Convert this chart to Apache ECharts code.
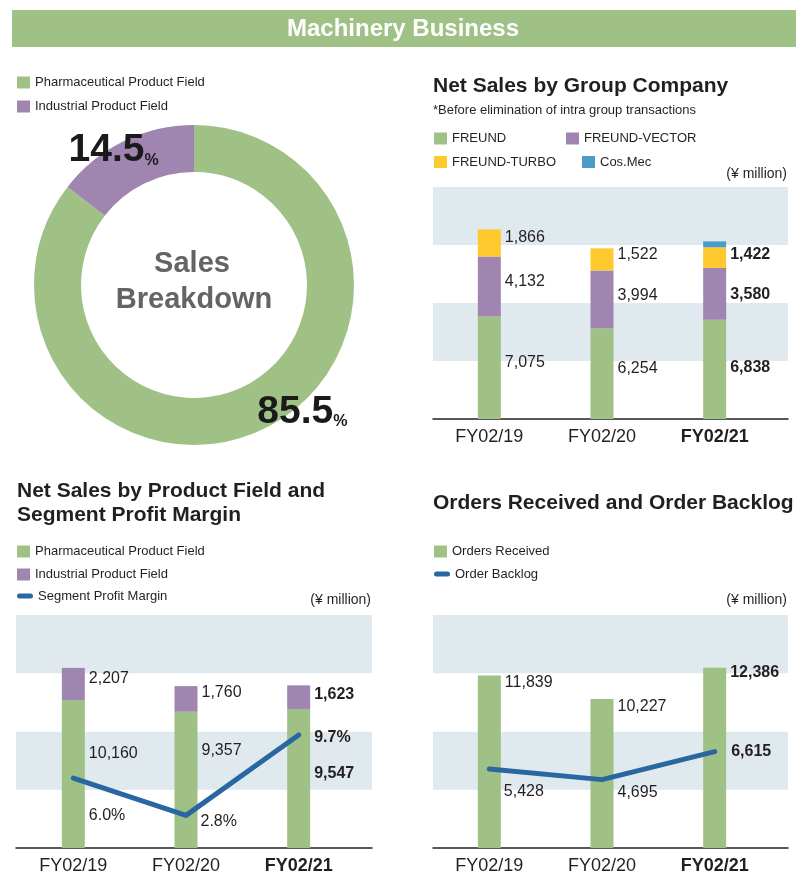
<!DOCTYPE html>
<html>
<head>
<meta charset="utf-8">
<title>Machinery Business</title>
<script src="https://cdn.jsdelivr.net/npm/echarts@6/dist/echarts.min.js"></script>
<style>
  html, body { margin: 0; padding: 0; background: #fff; }
  #chart { width: 796px; height: 872px; }
</style>
</head>
<body>
<div id="chart"></div>
<script>
const years = ['FY02/19', 'FY02/20', 'FY02/21']
const fieldNames = ['Pharmaceutical Product Field', 'Industrial Product Field']
const fieldShare = [85.5, 14.5]
const freund = [7075, 6254, 6838]
const freundVector = [4132, 3994, 3580]
const freundTurbo = [1866, 1522, 1422]
const cosMec = [null, null, 410]  // only FY02/21, no figure printed ->
const pharma = [10160, 9357, 9547]
const industrial = [2207, 1760, 1623]
const profitMargin = [6.0, 2.8, 9.7]
const ordersReceived = [11839, 10227, 12386]
const orderBacklog = [5428, 4695, 6615]
const salesTicks = [0, 4000, 8000, 12000, 16000]
const marginTicks = [0, 20]

const FONT = "'Liberation Sans', Arial, Helvetica, sans-serif"
const INK = '#231f20'
const GREEN = '#a0c185'
const PURPLE = '#a085b0'
const YELLOW = '#fdc92e'
const TEAL = '#4b9dc8'
const BLUE = '#2867a0'
const BAND = '#dfe9ee'

const num = v => v.toLocaleString('en-US')
const pct = v => v.toFixed(1) + '%'
// the latest year is printed bold
const boldLast = fmt => p => p.dataIndex === 2 ? '{b|' + fmt(p.value) + '}' : fmt(p.value)
const boldRich = size => ({ b: { fontFamily: FONT, fontSize: size, fontWeight: 'bold', color: INK } })

function valueLabel(fmt, extra) {
  return Object.assign({
    show: true, position: 'right', distance: 4,
    fontFamily: FONT, fontSize: 16, color: INK,
    formatter: boldLast(fmt), rich: boldRich(16)
  }, extra || {})
}
// nudge each label like in the printed chart
const nudged = (values, offsets) => values.map((v, i) => ({ value: v, label: { offset: offsets[i] } }))

const yMin = salesTicks[0]
const yMax = salesTicks[salesTicks.length - 1]
const yStep = salesTicks[1] - salesTicks[0]

function bandAxes(gridIndex) {
  return {
    x: {
      gridIndex, type: 'category', data: [''],
      axisLine: { lineStyle: { color: INK, width: 1.5 } },
      axisTick: { show: false }, axisLabel: { show: false }, splitLine: { show: false }
    },
    y: {
      gridIndex, type: 'value', min: yMin, max: yMax, interval: yStep,
      axisLine: { show: false }, axisTick: { show: false }, axisLabel: { show: false },
      splitLine: { show: false },
      splitArea: { show: true, areaStyle: { color: ['#ffffff', BAND] } }
    }
  }
}
function yearAxis(gridIndex) {
  return {
    gridIndex, type: 'category', data: years,
    axisLine: { show: false }, axisTick: { show: false },
    axisLabel: {
      interval: 0, margin: 9, fontFamily: FONT, fontSize: 18, color: INK,
      formatter: (v, i) => i === 2 ? '{b|' + v + '}' : v,
      rich: boldRich(18)
    }
  }
}
const hiddenY = (gridIndex, min, max) => ({ gridIndex, type: 'value', min, max, show: false })

const b0 = bandAxes(0), b2 = bandAxes(2), b4 = bandAxes(4)

const legendBase = {
  selectedMode: false, padding: 0, icon: 'rect', itemWidth: 13, itemHeight: 12,
  textStyle: { fontFamily: FONT, fontSize: 13, color: INK }
}
const capsule = 'path://M2.5,0H13.5A2.5,2.5,0,0,1,13.5,5H2.5A2.5,2.5,0,0,1,2.5,0Z'
const lineLegend = Object.assign({}, legendBase, { icon: capsule, itemWidth: 16, itemHeight: 5 })

function txt(text, x, y, size, opts) {
  opts = opts || {}
  return {
    type: 'text', x, y, silent: true,
    style: {
      text, fill: opts.color || INK,
      fontFamily: FONT, fontSize: size, fontWeight: opts.bold ? 'bold' : 'normal',
      textAlign: opts.align || 'left', align: opts.align || 'left',
      textVerticalAlign: 'middle', verticalAlign: 'middle'
    }
  }
}

const chart = echarts.init(document.getElementById('chart'))
const option = {
  animation: false,
  backgroundColor: '#ffffff',
  graphic: [
    { type: 'rect', shape: { x: 12, y: 10, width: 784, height: 37 }, style: { fill: GREEN }, silent: true },
    txt('Machinery Business', 403, 29, 24, { bold: true, color: '#ffffff', align: 'center' }),
    txt('Sales', 192, 264, 29, { bold: true, color: '#646464', align: 'center' }),
    txt('Breakdown', 194, 300, 29, { bold: true, color: '#646464', align: 'center' }),
    txt('Net Sales by Group Company', 433, 86, 21, { bold: true }),
    txt('*Before elimination of intra group transactions', 433, 110, 13),
    txt('(\u00a5 million)', 787, 174, 14, { align: 'right' }),
    txt('Net Sales by Product Field and', 17, 491, 21, { bold: true }),
    txt('Segment Profit Margin', 17, 515, 21, { bold: true }),
    txt('(\u00a5 million)', 371, 600, 14, { align: 'right' }),
    txt('Orders Received and Order Backlog', 433, 503, 21, { bold: true }),
    txt('(\u00a5 million)', 787, 600, 14, { align: 'right' })
  ],
  legend: [
    Object.assign({}, legendBase, { data: fieldNames, orient: 'vertical', left: 17, top: 76, itemGap: 11 }),
    Object.assign({}, legendBase, { data: ['FREUND'], left: 434, top: 132 }),
    Object.assign({}, legendBase, { data: ['FREUND-VECTOR'], left: 566, top: 132 }),
    Object.assign({}, legendBase, { data: ['FREUND-TURBO'], left: 434, top: 155.5 }),
    Object.assign({}, legendBase, { data: ['Cos.Mec'], left: 582, top: 155.5 }),
    Object.assign({}, legendBase, { data: fieldNames, orient: 'vertical', left: 17, top: 545, itemGap: 10 }),
    Object.assign({}, lineLegend, { data: ['Segment Profit Margin'], left: 17, top: 589.5 }),
    Object.assign({}, legendBase, { data: ['Orders Received'], left: 434, top: 545 }),
    Object.assign({}, lineLegend, { data: ['Order Backlog'], left: 434, top: 567.5 })
  ],
  grid: [
    { left: 433, top: 187, width: 355, height: 232, outerBoundsMode: 'none' },
    { left: 433, top: 187, width: 338, height: 232, outerBoundsMode: 'none' },
    { left: 16, top: 615, width: 356, height: 233, outerBoundsMode: 'none' },
    { left: 17, top: 615, width: 338, height: 233, outerBoundsMode: 'none' },
    { left: 433, top: 615, width: 355, height: 233, outerBoundsMode: 'none' },
    { left: 433, top: 615, width: 338, height: 233, outerBoundsMode: 'none' }
  ],
  xAxis: [b0.x, yearAxis(1), b2.x, yearAxis(3), b4.x, yearAxis(5)],
  yAxis: [
    b0.y, hiddenY(1, yMin, yMax),
    b2.y, hiddenY(3, yMin, yMax), hiddenY(3, marginTicks[0], marginTicks[1]),
    b4.y, hiddenY(5, yMin, yMax)
  ],
  series: [
    {
      type: 'pie', center: [194, 285], radius: [113, 160], startAngle: 90, silent: true,
      data: fieldNames.map((n, i) => ({ name: n, value: fieldShare[i], itemStyle: { color: [GREEN, PURPLE][i] } })),
      label: {
        show: true, position: 'inside',
        formatter: p => '{n|' + p.value.toFixed(1) + '}{p|%}',
        rich: {
          n: { fontFamily: FONT, fontSize: 39, fontWeight: 'bold', color: '#1a1a1a' },
          p: { fontFamily: FONT, fontSize: 16, fontWeight: 'bold', color: '#1a1a1a', verticalAlign: 'bottom', padding: [0, 0, 2, 0] }
        }
      },
      labelLine: { show: false },
      labelLayout: p => [{ dx: 47, dy: 2 }, { dx: -19, dy: -9 }][p.dataIndex],
      emphasis: { disabled: true }
    },
    // net sales by group company
    {
      name: 'FREUND', type: 'bar', xAxisIndex: 1, yAxisIndex: 1, stack: 'co', barWidth: 23,
      itemStyle: { color: GREEN }, label: valueLabel(num),
      data: nudged(freund, [[0, -5], [0, -5], [0, -2]])
    },
    {
      name: 'FREUND-VECTOR', type: 'bar', xAxisIndex: 1, yAxisIndex: 1, stack: 'co', barWidth: 23,
      itemStyle: { color: PURPLE }, label: valueLabel(num),
      data: nudged(freundVector, [[0, -5], [0, -4], [0, 1]])
    },
    {
      name: 'FREUND-TURBO', type: 'bar', xAxisIndex: 1, yAxisIndex: 1, stack: 'co', barWidth: 23,
      itemStyle: { color: YELLOW }, label: valueLabel(num),
      data: nudged(freundTurbo, [[0, -5], [0, -5], [0, -3]])
    },
    {
      name: 'Cos.Mec', type: 'bar', xAxisIndex: 1, yAxisIndex: 1, stack: 'co', barWidth: 23,
      itemStyle: { color: TEAL }, data: cosMec
    },
    // net sales by product field
    {
      name: fieldNames[0], type: 'bar', xAxisIndex: 3, yAxisIndex: 3, stack: 'field', barWidth: 23,
      itemStyle: { color: GREEN }, label: valueLabel(num),
      data: nudged(pharma, [[0, -20], [0, -29], [0, -5]])
    },
    {
      name: fieldNames[1], type: 'bar', xAxisIndex: 3, yAxisIndex: 3, stack: 'field', barWidth: 23,
      itemStyle: { color: PURPLE }, label: valueLabel(num),
      data: nudged(industrial, [[0, -5], [0, -6], [0, -3]])
    },
    {
      name: 'Segment Profit Margin', type: 'line', xAxisIndex: 3, yAxisIndex: 4,
      symbol: 'circle', symbolSize: 1, itemStyle: { color: BLUE },
      lineStyle: { color: BLUE, width: 5, cap: 'round', join: 'round' },
      label: valueLabel(pct, { distance: 5 }),
      data: nudged(profitMargin, [[10, 37], [9, 6], [10, 3]])
    },
    // orders
    {
      name: 'Orders Received', type: 'bar', xAxisIndex: 5, yAxisIndex: 6, barWidth: 23,
      itemStyle: { color: GREEN },
      label: valueLabel(num, { position: ['100%', 0], align: 'left', verticalAlign: 'middle' }),
      data: nudged(ordersReceived, [[4, 7], [4, 8], [4, 5]])
    },
    {
      name: 'Order Backlog', type: 'line', xAxisIndex: 5, yAxisIndex: 6,
      symbol: 'circle', symbolSize: 1, itemStyle: { color: BLUE },
      lineStyle: { color: BLUE, width: 5, cap: 'round', join: 'round' },
      label: valueLabel(num, { distance: 5 }),
      data: nudged(orderBacklog, [[9, 23], [10, 13], [11, 0]])
    }
  ]
}
chart.setOption(option)
</script>
</body>
</html>
